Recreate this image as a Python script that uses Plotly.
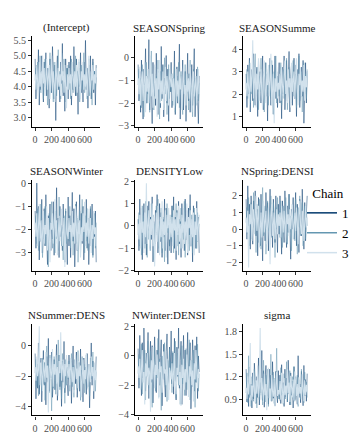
import plotly.graph_objects as go

# ---------------- data ----------------
PARAMS = ["(Intercept)", "SEASONSpring", "SEASONSummer",
          "SEASONWinter", "DENSITYLow", "SEASONSpring:DENSITYLow",
          "SEASONSummer:DENSITYLow", "SEASONWinter:DENSITYLow", "sigma"]
# strip labels as they appear (clipped) in the panel headers
STRIP_LABELS = ["(Intercept)", "SEASONSpring", "SEASONSumme",
                "SEASONWinter", "DENSITYLow", "NSpring:DENSI",
                "NSummer:DENS", "NWinter:DENSI", "sigma"]
CHAINS = ["1", "2", "3"]
ITER = [1 + 10 * i for i in range(75)]

intercept_c1 = [4.9, 3.6, 4.7, 4.1, 5.2, 3.4, 4.5, 3.9, 5.0, 4.3, 3.5, 4.8, 4.0, 5.1, 3.7, 4.6, 4.2, 3.3, 4.9, 4.4,
                3.8, 5.3, 4.0, 3.6, 4.7, 2.9, 4.5, 5.0, 3.9, 4.2, 3.5, 4.8, 4.1, 5.4, 3.7, 4.4, 3.2, 4.9, 4.0, 4.6,
                3.6, 4.8, 4.2, 5.0, 3.4, 4.5, 3.9, 5.3, 4.1, 3.7, 4.9, 4.3, 3.1, 4.6, 4.0, 5.1, 3.8, 4.4, 3.5, 4.8,
                4.2, 5.5, 3.9, 4.6, 3.3, 4.7, 4.1, 5.0, 3.6, 4.3, 4.9, 3.8, 4.5, 3.4, 4.7]
intercept_c2 = [4.2, 4.6, 3.9, 4.8, 3.7, 4.4, 5.0, 3.8, 4.3, 4.7, 3.6, 4.1, 4.9, 3.9, 4.5, 3.4, 4.6, 4.0, 5.1, 3.8,
                4.4, 4.2, 3.5, 4.8, 4.0, 4.6, 3.7, 4.3, 5.2, 3.9, 4.5, 3.6, 4.7, 4.1, 3.8, 4.9, 4.3, 3.5, 4.6, 4.2,
                4.7, 3.9, 4.4, 3.6, 4.9, 4.1, 3.8, 4.6, 4.3, 5.0, 3.7, 4.5, 4.0, 4.8, 3.5, 4.2, 4.7, 3.9, 4.4, 5.1,
                3.8, 4.3, 4.6, 3.6, 4.1, 4.9, 3.7, 4.4, 4.2, 3.4, 4.8, 4.0, 4.5, 3.9, 4.3]
intercept_c3 = [4.4, 3.9, 4.7, 4.2, 3.6, 4.8, 4.0, 4.5, 3.8, 5.0, 4.1, 4.6, 3.7, 4.3, 4.9, 3.9, 4.4, 4.7, 3.6, 4.2,
                5.0, 3.8, 4.5, 4.1, 3.5, 4.8, 4.3, 3.9, 4.6, 4.0, 4.4, 3.7, 5.1, 4.2, 4.5, 3.8, 4.7, 4.0, 3.3, 4.4,
                3.9, 4.6, 4.1, 4.4, 3.7, 4.8, 4.2, 3.9, 4.5, 4.0, 4.7, 3.8, 4.3, 4.9, 4.1, 3.6, 4.5, 4.2, 4.8, 3.9,
                4.4, 4.0, 4.6, 3.7, 4.3, 5.0, 4.1, 3.8, 4.5, 4.2, 4.7, 3.9, 4.4, 4.1, 4.6]

spring_c1 = [-0.3, -1.9, -0.6, -2.4, -0.1, -1.5, -2.7, -0.5, -1.2, 0.4, -2.0, -0.8, -1.6, 0.8, -2.3, -0.4, -1.1, -2.9, -0.2, -1.7,
             -0.7, -2.1, 0.2, -1.4, -2.5, -0.6, -1.0, -2.2, 0.5, -1.8, -0.3, -2.6, -0.9, -1.3, 0.1, -2.0, -0.5, -2.8, -0.7, -1.5,
             -0.2, -2.2, -0.9, -1.6, 0.3, -2.5, -1.1, -0.4, -2.0, -1.3, 0.6, -2.7, -0.8, -1.5, -0.1, -2.3, -1.0, -0.6, -2.8, -1.2,
             0.2, -1.9, -0.7, -2.4, -1.4, -0.3, -2.1, -0.9, 0.4, -2.6, -1.1, -0.5, -1.8, -2.9, -0.8]
spring_c2 = [-1.2, -0.5, -1.8, -0.9, -2.2, -0.3, -1.4, -2.6, -0.7, -1.6, -0.2, -2.0, -1.1, -0.6, -2.4, -0.9, 0.3, -1.7, -1.0, -2.3,
             -0.4, -1.5, -0.8, -2.1, -0.1, -1.3, -2.7, -0.6, -1.9, -0.4, -1.2, -2.2, 0.0, -1.6, -0.8, -2.5, -1.0, -0.3, -1.8, -0.9,
             -1.5, -0.7, -2.1, -1.0, -0.4, -2.4, -1.3, -0.8, -1.9, -0.2, -2.2, -1.1, -0.6, -1.7, -2.5, -0.9, -1.4, -0.3, -2.0, -1.2,
             -0.7, -2.3, -1.0, -0.1, -1.8, -1.3, -2.6, -0.5, -1.6, -0.9, -2.1, -1.4, -0.4, -1.9, -1.1]
spring_c3 = [-0.9, -1.6, -0.4, -2.1, -1.0, -0.6, -1.9, -1.3, -0.2, -2.4, -0.8, -1.5, -0.5, -2.0, -1.2, 0.1, -1.7, -0.7, -2.2, -1.1,
             -0.3, -1.8, -0.9, -2.6, -0.5, -1.4, -0.1, -2.0, -1.0, -1.6, -0.6, -2.3, -1.2, -0.4, -1.9, -0.8, -1.4, -2.1, -0.5, -1.1,
             -1.3, -0.7, -1.9, -0.9, -2.2, -1.2, -0.5, -1.7, -1.0, -2.0, -0.6, -1.4, -0.8, -2.3, -1.1, -0.3, -1.6, -1.2, -2.1, -0.7,
             -1.5, -0.9, -1.8, -0.4, -1.3, -2.4, -1.0, -0.6, -1.7, -1.2, -0.8, -2.0, -1.4, -0.5, -1.6]

summer_c1 = [2.9, 1.4, 3.3, 2.0, 3.6, 1.2, 2.6, 3.1, 1.7, 3.8, 2.3, 1.5, 3.2, 2.8, 1.0, 3.5, 2.1, 3.0, 1.6, 2.7,
             3.7, 1.3, 2.4, 3.4, 1.9, 2.9, 0.8, 3.1, 2.2, 3.6, 1.5, 2.8, 3.3, 1.1, 2.5, 3.7, 1.8, 3.0, 1.4, 2.6,
             3.4, 1.6, 2.9, 0.9, 3.2, 2.0, 3.7, 1.3, 2.7, 3.5, 1.7, 2.3, 3.9, 1.2, 2.8, 3.3, 1.5, 2.6, 3.6, 1.8,
             2.9, 1.0, 3.1, 2.4, 3.8, 1.4, 2.7, 3.2, 1.9, 3.5, 0.7, 2.8, 3.4, 1.6, 3.0]
summer_c2 = [2.2, 3.1, 1.8, 2.7, 3.5, 1.6, 2.9, 2.0, 3.3, 1.4, 2.5, 3.8, 1.9, 2.6, 3.2, 1.3, 2.8, 2.1, 3.6, 1.7,
             2.4, 3.0, 1.2, 2.7, 3.4, 2.0, 2.9, 1.5, 3.3, 2.3, 1.8, 3.5, 2.6, 1.1, 3.0, 2.2, 3.7, 1.6, 2.8, 2.4,
             1.9, 2.8, 3.4, 1.5, 2.6, 3.1, 1.8, 2.9, 2.2, 3.6, 1.3, 2.5, 3.2, 2.0, 1.6, 3.0, 2.7, 3.5, 1.9, 2.3,
             3.3, 1.4, 2.8, 2.1, 3.7, 1.7, 2.6, 3.0, 1.2, 2.4, 3.4, 2.0, 2.9, 1.8, 3.1]
summer_c3 = [2.5, 1.9, 3.0, 2.3, 1.5, 3.4, 2.1, 2.8, 4.4, 1.8, 2.6, 3.2, 1.4, 2.9, 2.2, 3.6, 1.7, 2.5, 3.1, 2.0,
             1.3, 2.7, 3.5, 2.2, 1.6, 3.0, 2.4, 3.3, 1.9, 2.6, 3.8, 1.5, 2.3, 2.9, 0.7, 2.7, 2.1, 3.2, 1.8, 2.5,
             2.2, 2.9, 1.7, 3.3, 2.4, 1.9, 2.8, 3.5, 2.0, 2.6, 1.6, 3.1, 2.3, 2.7, 1.4, 3.4, 2.1, 2.5, 3.0, 1.8,
             2.7, 3.6, 2.2, 1.5, 2.9, 2.4, 3.2, 1.9, 2.6, 2.1, 3.3, 1.7, 2.8, 2.3, 3.0]

winter_c1 = [-1.2, -2.8, 0.0, -2.2, -1.0, -3.3, -1.6, -2.5, -0.7, -3.0, -1.9, -1.1, -2.7, -0.5, -2.3, -3.5, -1.4, -2.0, -0.9, -2.9,
             -1.7, -2.4, -0.8, -3.1, -1.3, -2.1, -0.2, -2.6, -1.5, -3.2, -1.0, -2.3, -1.8, -2.9, -0.9, -2.0, -3.4, -1.2, -2.6, -3.5,
             -0.6, -2.7, -1.4, -3.2, -1.9, -0.4, -2.5, -1.1, -3.6, -2.2, -0.8, -2.9, -1.6, -2.1, -0.5, -3.0, -1.3, -2.6, -1.0, -3.3,
             -1.8, -2.4, -0.7, -2.8, -1.5, -3.5, -2.0, -1.1, -2.7, -0.9, -3.1, -1.7, -2.3, -1.2, -3.4]
winter_c2 = [-2.0, -1.4, -2.6, -1.1, -2.9, -1.8, -2.3, -0.9, -2.1, -3.2, -1.5, -2.4, -1.0, -2.7, -1.7, -2.2, -3.6, -1.3, -2.5, -1.9,
             -0.8, -2.8, -1.6, -2.2, -3.0, -1.2, -2.4, -1.7, -2.9, -0.6, -2.1, -1.5, -2.7, -1.9, -3.3, -1.4, -2.3, -1.1, -2.6, -2.0,
             -1.6, -2.5, -1.0, -2.8, -2.0, -1.3, -3.1, -1.8, -2.4, -0.9, -2.6, -1.5, -3.4, -2.1, -1.2, -2.7, -1.9, -0.7, -2.3, -1.6,
             -3.0, -1.4, -2.5, -1.1, -2.9, -1.8, -2.2, -1.0, -2.6, -1.5, -3.2, -2.0, -1.3, -2.8, -1.7]
winter_c3 = [-1.7, -2.3, -1.3, -2.7, -1.9, -0.9, -2.5, -1.6, -3.0, -2.1, -1.2, -2.6, -1.8, -2.2, -1.0, -2.9, -1.5, -2.4, -3.4, -1.7,
             -2.0, -1.3, -2.6, -1.9, -0.7, -2.3, -1.6, -3.1, -2.0, -1.4, -2.5, -1.8, -1.1, -2.7, -2.1, -1.5, -3.6, -1.9, -1.3, -2.2,
             -2.4, -1.5, -2.1, -1.8, -2.8, -1.2, -2.3, -1.7, -2.6, -1.0, -2.0, -2.9, -1.4, -2.2, -1.6, -3.2, -1.9, -2.5, -1.3, -2.1,
             -0.8, -2.7, -1.7, -2.3, -1.1, -2.6, -2.0, -1.5, -3.0, -1.8, -2.4, -1.2, -2.2, -1.9, -2.7]

densLow_c1 = [0.3, -1.1, 1.2, -0.4, 0.8, -1.5, 0.1, 1.0, -0.8, 0.5, -1.3, 0.9, -0.2, 1.1, -1.0, 0.4, -0.6, 1.3, -1.6, 0.2,
              -0.9, 0.7, -0.3, 1.4, -1.2, 0.0, 1.0, -0.7, 0.6, -1.4, 0.3, -0.5, 1.2, -1.1, 0.8, -0.2, -1.7, 0.5, -0.9, 0.2,
              -1.2, 0.9, -0.5, 1.3, -1.0, 0.4, -1.5, 0.7, -0.3, 1.1, -0.8, 0.2, -1.4, 1.0, -0.1, 0.6, -1.1, 1.2, -0.6, 0.3,
              -1.3, 0.8, -0.4, 1.4, -0.9, 0.1, -1.6, 0.9, -0.2, 0.5, -1.0, 1.1, -0.7, 0.4, -1.2]
densLow_c2 = [-0.4, 0.6, -0.9, 0.2, -1.3, 0.9, -0.5, 0.4, -1.0, 1.1, -0.2, -1.4, 0.7, -0.6, 0.3, -1.1, 1.0, -0.3, 0.5, -1.5,
              0.1, -0.8, 0.9, -0.4, 1.2, -1.0, 0.2, -0.6, 0.8, -1.2, 0.4, -0.1, -1.6, 0.6, -0.7, 1.0, -0.3, 0.3, -1.1, 0.0,
              0.5, -0.7, 0.9, -1.2, 0.2, -0.4, 1.0, -0.9, 0.6, -1.3, 0.3, -0.2, 0.8, -1.0, 0.4, -0.6, 1.1, -1.4, 0.0, 0.7,
              -0.8, 0.3, -1.1, 0.9, -0.5, 0.5, -1.2, 0.2, 0.8, -0.7, 0.4, -1.0, 0.6, -0.3, 0.1]
densLow_c3 = [0.1, -0.6, 0.5, -1.0, 0.8, -0.3, 0.2, -1.2, 0.6, -0.5, 1.9, -0.8, 0.0, 0.7, -1.1, 0.3, -0.4, 1.0, -0.9, 0.4,
              -1.8, 0.1, 0.6, -0.7, 0.9, -0.2, -1.3, 0.4, -0.5, 1.1, -1.0, 0.2, -0.4, 0.7, -1.4, 0.5, -0.1, 0.8, -0.6, 0.3,
              -0.5, 0.4, -0.9, 0.7, -0.2, 0.3, -1.1, 0.6, -0.4, 0.9, -0.7, 0.1, -1.0, 0.5, -0.3, 0.8, -0.8, 0.2, -0.6, 1.0,
              -1.2, 0.4, -0.1, 0.7, -0.9, 0.3, -0.5, 0.6, -1.3, 0.2, -0.4, 0.8, -0.7, 0.0, 0.5]

springDens_c1 = [1.8, -0.6, 2.6, 0.2, 1.5, -1.2, 2.0, 0.8, -0.9, 1.7, 0.1, 2.3, -0.4, 1.2, -1.6, 1.9, 0.5, -1.0, 2.1, 0.3,
                 -1.9, 1.4, 0.7, -0.7, 2.2, 0.0, 1.6, -1.3, 0.9, 2.4, -0.5, 1.1, -1.1, 1.8, 0.4, -0.8, 2.0, 0.6, -1.4, 1.5,
                 -0.3, 2.0, 0.6, -1.5, 1.7, 0.2, -0.8, 2.3, 0.9, -1.1, 1.4, -0.2, 2.1, 0.5, -1.8, 1.2, 0.0, 1.9, -0.6, 0.8,
                 2.2, -1.0, 1.5, 0.3, -1.4, 1.8, 0.7, -0.4, 2.4, 0.1, -1.2, 1.6, -0.7, 1.0, 2.0]
springDens_c2 = [0.4, 1.3, -0.3, 1.9, -1.0, 0.8, 1.6, -0.6, 0.2, 2.2, -0.2, 1.0, -1.4, 1.5, 0.6, -0.8, 1.8, 0.1, -1.2, 1.1,
                 2.5, -0.4, 0.9, 1.4, -1.5, 0.5, 1.7, -0.1, 1.2, -0.9, 2.0, 0.3, -0.5, 1.6, 0.7, -1.7, 1.3, 0.0, 1.9, 0.4,
                 1.1, -0.5, 1.7, 0.2, -1.1, 1.4, 0.7, -0.3, 1.9, 0.4, -0.9, 1.2, 2.1, -0.2, 0.8, -1.3, 1.5, 0.3, 1.0, -0.7,
                 1.8, 0.6, -1.5, 1.3, 0.1, 2.0, -0.4, 0.9, 1.6, -1.0, 0.5, 1.4, -0.6, 1.1, 0.2]
springDens_c3 = [0.7, -0.2, 1.1, -2.3, 0.9, 0.3, 1.5, -0.7, 0.6, 1.2, -0.3, 0.8, 2.0, -0.1, 0.5, 1.4, -1.1, 0.2, 1.0, -0.5,
                 0.7, 1.7, -0.2, 0.4, 1.1, -0.9, 0.6, 1.3, 0.0, -2.1, 0.8, 1.5, -0.4, 0.3, 1.0, -0.6, 0.5, 1.2, -0.3, 0.9,
                 0.2, 1.0, -0.5, 1.4, 0.6, -0.2, 1.1, 0.4, -0.8, 1.6, 0.3, 0.9, -0.4, 1.2, 0.0, 0.7, 1.5, -0.6, 0.5, 1.0,
                 -0.1, 1.3, 0.4, -0.9, 0.8, 1.7, 0.2, -0.3, 1.1, 0.6, -0.7, 0.9, 1.4, 0.1, 0.7]

summerDens_c1 = [-0.5, -3.5, -1.2, -2.8, 0.2, -3.2, -1.6, -0.8, -3.7, -1.9, -0.3, -2.6, -1.1, -3.9, -0.7, -2.3, 0.5, -3.0, -1.4, -2.1,
                 -0.4, -3.4, -1.8, -0.9, -2.9, -1.3, 0.1, -3.6, -2.0, -0.6, -2.7, -1.5, -4.0, -1.0, -2.4, 0.3, -3.1, -1.7, -0.8, -2.5,
                 -3.3, -0.6, -2.2, -1.0, -3.8, -1.7, 0.0, -2.9, -1.3, -2.5, -0.4, -3.4, -1.9, -1.1, -3.0, -0.2, -2.4, -1.6, -3.7, -0.8,
                 -2.1, -1.4, -3.2, -0.5, -2.7, -1.2, -4.1, -1.8, 0.2, -2.6, -1.0, -3.5, -1.5, -2.3, -0.7]
summerDens_c2 = [-1.8, -0.9, -2.7, -1.3, -3.3, -0.4, -2.2, -1.5, -3.0, -0.8, -2.5, -1.1, -3.6, -1.9, 0.0, -2.4, -1.2, -3.1, -0.6, -2.0,
                 -4.3, -1.4, -2.8, -0.7, -1.9, -3.2, -1.0, -2.3, 0.4, -1.6, -2.9, -1.2, -3.5, -0.5, -2.1, -1.7, -3.8, -0.9, -2.6, -1.4,
                 -2.2, -1.0, -3.0, -1.6, -0.5, -2.7, -1.3, -3.4, -0.9, -2.0, -1.5, -2.9, -0.3, -2.4, -1.1, -3.6, -1.8, -0.7, -2.5, -1.2,
                 -3.1, -2.0, -0.6, -2.8, -1.4, -1.9, -3.3, -0.8, -2.2, -1.6, -0.4, -2.6, -1.3, -3.0, -1.7]
summerDens_c3 = [-1.4, -2.3, -0.7, -2.0, -1.6, 1.3, -2.6, -1.1, -1.9, -3.0, -0.9, -1.7, -2.4, -0.4, -2.1, -1.3, -4.4, -1.5, -0.8, -2.2,
                 -1.8, -0.2, -2.7, -1.2, -1.9, -0.6, -2.5, -1.4, -3.3, -1.0, -1.8, 0.9, -2.3, -1.5, -0.9, -2.8, -1.2, -2.0, -0.6, -1.6,
                 -2.1, -1.2, -2.6, -0.8, -1.9, -2.4, -1.4, -3.1, -1.7, -0.6, -2.2, -1.5, -2.8, -1.0, -2.0, -1.3, -3.4, -1.8, -0.9, -2.5,
                 -1.6, -2.2, -0.5, -1.9, -2.9, -1.2, -1.7, -2.4, -0.7, -2.0, -1.4, -3.0, -1.1, -2.3, -1.6]

winterDens_c1 = [0.5, -2.2, 1.4, -0.8, -2.7, 0.9, -1.5, 1.9, -0.3, -2.4, 0.2, -1.1, 1.6, -2.9, -0.5, 1.0, -1.8, 0.7, -3.2, -0.2,
                 1.3, -1.4, -2.5, 0.4, -0.9, 1.8, -2.0, -0.1, 1.1, -3.4, -0.6, 0.8, -1.7, -2.8, 0.3, 1.5, -1.2, -2.3, 0.6, -1.0,
                 1.7, -1.9, 0.2, -2.6, 1.2, -0.7, -3.0, 0.6, -1.4, 1.9, -2.2, -0.3, 1.0, -3.3, -0.9, 1.4, -1.6, 0.4, -2.7, -0.1,
                 1.6, -2.0, -0.6, 0.9, -3.6, -1.2, 1.1, -0.4, -2.4, 0.7, -1.8, 1.3, -2.9, 0.0, -1.1]
winterDens_c2 = [-1.2, 0.1, -2.0, -0.6, 0.8, -2.6, -0.9, -1.7, 0.4, -3.0, -0.3, -1.4, 1.0, -2.2, -0.8, 0.3, -1.9, -3.5, -0.4, -1.1,
                 0.6, -2.4, -0.7, -1.5, 1.2, -2.8, -0.2, -1.3, -3.7, 0.0, -1.6, -0.5, 0.9, -2.1, -1.0, -3.1, -0.3, -1.8, 0.5, -1.2,
                 -0.4, -2.5, 0.3, -1.7, -0.9, 1.0, -2.9, -1.3, 0.2, -2.0, -0.6, -3.3, -1.1, 0.7, -1.9, -0.2, -2.7, -1.4, 0.5, -2.3,
                 -0.8, -1.6, 1.1, -3.0, -1.0, -0.3, -2.1, 0.4, -1.5, -3.5, -0.7, -1.8, 0.8, -2.4, -1.2]
winterDens_c3 = [-0.7, -1.5, -0.2, -2.3, -0.9, 0.4, -1.8, -1.1, -3.3, -0.5, -1.4, 0.2, -2.0, -0.8, -1.2, -3.8, -0.3, -1.6, 0.6, -1.0,
                 -2.2, -0.6, -1.3, 0.1, -1.9, -2.9, -0.4, -1.1, -0.7, -2.5, -1.5, 0.3, -1.2, -0.9, -2.0, -0.2, -1.7, -3.0, -0.8, -1.3,
                 -1.6, -0.5, -2.1, -1.0, 0.2, -1.7, -2.6, -0.8, -1.3, 0.5, -2.0, -1.1, -3.4, -0.6, -1.5, -0.2, -2.3, -0.9, -1.8, 0.1,
                 -1.2, -2.8, -0.7, -1.4, -0.3, -2.0, -1.0, -3.1, -0.5, -1.6, 0.4, -1.3, -2.2, -0.9, -1.5]

sigma_c1 = [1.30, 0.86, 1.15, 0.80, 1.33, 0.95, 1.10, 0.78, 1.25, 0.90, 1.38, 1.02, 0.84, 1.20, 0.92, 1.45, 0.82, 1.12, 0.98, 1.55,
            0.88, 1.28, 0.79, 1.18, 1.35, 0.94, 1.08, 0.83, 1.30, 1.00, 1.22, 0.87, 1.40, 0.91, 1.15, 0.81, 1.27, 0.96, 0.85, 1.28,
            0.90, 1.22, 0.84, 1.36, 0.97, 1.12, 0.80, 1.30, 0.93, 1.18, 0.86, 1.42, 1.00, 0.82, 1.25, 0.95, 1.14, 0.78, 1.33, 0.89,
            1.20, 1.04, 0.83, 1.48, 0.92, 1.10, 0.85, 1.27, 0.98, 0.81, 1.35, 0.94, 1.16, 0.87, 1.24]
sigma_c2 = [0.98, 1.25, 0.85, 1.48, 0.92, 1.10, 0.80, 1.20, 1.00, 0.87, 1.30, 0.94, 1.13, 0.78, 1.24, 1.05, 0.89, 1.36, 0.95, 1.16,
            0.82, 1.42, 1.01, 0.86, 1.22, 0.93, 1.30, 0.80, 1.12, 0.97, 1.50, 0.88, 1.06, 1.26, 0.84, 1.18, 0.99, 1.58, 0.90, 1.08,
            1.15, 0.88, 1.32, 0.95, 1.07, 0.83, 1.24, 1.00, 0.90, 1.40, 0.86, 1.12, 0.97, 1.28, 0.82, 1.05, 1.20, 0.91, 1.34, 0.87,
            1.10, 0.96, 1.22, 0.80, 1.16, 1.02, 0.89, 1.30, 0.94, 1.08, 0.85, 1.26, 0.99, 1.13, 0.92]
sigma_c3 = [1.05, 0.90, 1.20, 0.96, 1.12, 1.65, 0.88, 1.08, 0.93, 1.28, 1.00, 0.85, 1.15, 0.97, 1.35, 0.92, 1.06, 1.85, 0.89, 1.18,
            1.02, 0.86, 1.24, 0.95, 1.10, 0.75, 1.14, 1.32, 0.91, 1.04, 0.87, 1.22, 1.00, 0.93, 1.16, 0.80, 1.08, 1.26, 0.94, 1.02,
            0.96, 1.14, 0.89, 1.25, 1.01, 0.84, 1.18, 0.95, 1.08, 0.90, 1.30, 0.98, 1.12, 0.86, 1.21, 1.03, 0.92, 1.16, 0.88, 1.27,
            1.00, 0.94, 1.10, 0.83, 1.19, 0.97, 1.06, 0.90, 1.23, 1.02, 0.87, 1.15, 0.95, 1.09, 0.99]

DRAWS = [
    [intercept_c1, intercept_c2, intercept_c3],
    [spring_c1, spring_c2, spring_c3],
    [summer_c1, summer_c2, summer_c3],
    [winter_c1, winter_c2, winter_c3],
    [densLow_c1, densLow_c2, densLow_c3],
    [springDens_c1, springDens_c2, springDens_c3],
    [summerDens_c1, summerDens_c2, summerDens_c3],
    [winterDens_c1, winterDens_c2, winterDens_c3],
    [sigma_c1, sigma_c2, sigma_c3],
]

X_TICKS = [0, 200, 400, 600]
Y_TICKS = [
    [3.0, 3.5, 4.0, 4.5, 5.0, 5.5],
    [-3, -2, -1, 0],
    [1, 2, 3, 4],
    [-3, -2, -1, 0],
    [-2, -1, 0, 1, 2],
    [-2, -1, 0, 1, 2],
    [-4, -2, 0],
    [-4, -2, 0, 2],
    [0.9, 1.2, 1.5, 1.8],
]

# ---------------- style / layout ----------------
W, H = 360, 432
CHAIN_COLORS = ["#03396c", "#6497b1", "#d1e1ec"]
CHAIN_WIDTHS = [0.5, 0.5, 1.1]
Y_RANGES = [
    [2.68, 5.63], [-3.06, 0.94], [0.52, 4.57],
    [-3.77, 0.13], [-2.0, 2.05], [-2.5, 2.95],
    [-4.6, 1.48], [-4.05, 2.2], [0.68, 1.91],
]
X_RANGE = [-37, 787]
COL_PX = [(24, 92), (127, 195), (235, 303)]
ROW_PX = [(25, 118), (172, 265), (319, 413)]
TITLE_Y_PX = [16, 163, 310]
FONT = "Times New Roman, Liberation Serif, serif"

bad = []
for i, chains in enumerate(DRAWS):
    for k, c in enumerate(chains):
        if len(c) != len(ITER):
            bad.append((i, k, len(c)))
if bad:
    raise ValueError(f"length mismatches: {bad}")

fig = go.Figure()
annotations = []
for i, chains in enumerate(DRAWS):
    r, c = divmod(i, 3)
    ax = "" if i == 0 else str(i + 1)
    for k, vals in enumerate(chains):
        fig.add_trace(go.Scatter(
            x=ITER, y=vals, mode="lines",
            line=dict(color=CHAIN_COLORS[k], width=CHAIN_WIDTHS[k]),
            name=CHAINS[k], legendgroup=CHAINS[k], showlegend=False,
            xaxis="x" + ax, yaxis="y" + ax, hoverinfo="skip",
        ))
    x0, x1 = COL_PX[c]
    y0, y1 = ROW_PX[r]
    common = dict(showline=True, linecolor="#000000", linewidth=1.2,
                  ticks="outside", ticklen=3, tickwidth=0.8, tickcolor="#333333",
                  showgrid=False, zeroline=False,
                  tickfont=dict(family=FONT, size=10, color="#4d4d4d"))
    fig.layout["xaxis" + ax] = dict(
        domain=[x0 / W, x1 / W], range=X_RANGE, anchor="y" + ax,
        tickvals=X_TICKS, ticktext=[str(t) for t in X_TICKS], tickangle=0,
        **common)
    fmt = ".1f" if i in (0, 8) else "d"
    fig.layout["yaxis" + ax] = dict(
        domain=[1 - y1 / H, 1 - y0 / H], range=Y_RANGES[i], anchor="x" + ax,
        tickvals=Y_TICKS[i], tickformat=fmt, **common)
    annotations.append(dict(
        text=STRIP_LABELS[i], x=(x0 + x1) / 2 / W, y=1 - TITLE_Y_PX[r] / H,
        xref="paper", yref="paper", xanchor="center", yanchor="middle",
        showarrow=False, font=dict(family=FONT, size=11, color="#1a1a1a")))

# legend keys (no data, legend only)
for k, name in enumerate(CHAINS):
    fig.add_trace(go.Scatter(
        x=[None], y=[None], mode="lines", name=name,
        line=dict(color=CHAIN_COLORS[k], width=1.5),
        showlegend=True, xaxis="x", yaxis="y"))

fig.update_layout(
    width=W, height=H,
    margin=dict(l=0, r=0, t=0, b=0),
    paper_bgcolor="white", plot_bgcolor="white",
    annotations=annotations,
    legend=dict(
        title=dict(text="Chain", side="top center",
                   font=dict(family=FONT, size=13, color="#000000")),
        font=dict(family=FONT, size=13, color="#000000"),
        x=294 / W, y=1 - 173 / H, xanchor="left", yanchor="top",
        bgcolor="rgba(0,0,0,0)", tracegroupgap=0, itemwidth=30,
    ),
)

fig.write_html("out.html")
